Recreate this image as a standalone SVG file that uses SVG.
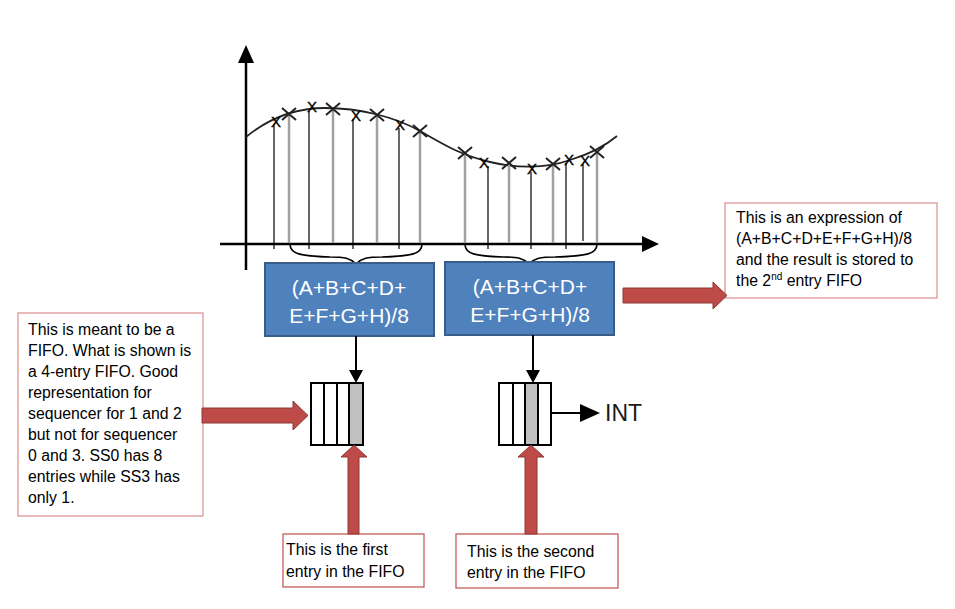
<svg xmlns="http://www.w3.org/2000/svg" width="955" height="609" viewBox="0 0 955 609">
<defs>
<style>
.txt{font-family:"Liberation Sans",Arial,sans-serif;font-size:15.8px;fill:#000}
.boxtxt{font-family:"Liberation Sans",Arial,sans-serif;font-size:21px;fill:#fff;text-anchor:middle}
.blk{stroke:#000;stroke-width:1.2;fill:none}
.gry{stroke:#A0A0A0;stroke-width:2.5;fill:none}
.xm{font-family:"Liberation Sans",Arial,sans-serif;font-size:15px;fill:#000;text-anchor:middle;stroke:#000;stroke-width:0.4}
.cr{stroke:#222;stroke-width:2;fill:none}
.calc{fill:#4F81BD;stroke:#385D8A;stroke-width:2}
.note{fill:#fff;stroke:#DC8E8E;stroke-width:1.2}
.note2{fill:#fff;stroke:#C0504D;stroke-width:1.2}
.red{fill:#BE4B48;stroke:#8C3836;stroke-width:1}
.fifo{fill:#fff;stroke:#000;stroke-width:2}
</style>
</defs>
<rect width="955" height="609" fill="#fff"/>

<g id="graph">
  <line x1="246" y1="270" x2="246" y2="62" stroke="#000" stroke-width="2.5"/>
  <polygon points="238,63 254,63 246,45" fill="#000"/>
  <line x1="220" y1="244" x2="643" y2="244" stroke="#000" stroke-width="2.5"/>
  <polygon points="642,236 642,252 659,244" fill="#000"/>
  <path d="M246,137 C268,119 295,108 325,108 C360,108 395,117 420,131 C445,145 460,155 490,162 C515,168 545,169 570,160 C590,154 605,146 617,136" stroke="#222" stroke-width="1.8" fill="none"/>
  <line class="blk" x1="274" y1="124" x2="274" y2="249"/>
  <line class="blk" x1="309" y1="111" x2="309" y2="249"/>
  <line class="blk" x1="353" y1="119" x2="353" y2="249"/>
  <line class="blk" x1="399" y1="128" x2="399" y2="249"/>
  <line class="blk" x1="488" y1="166" x2="488" y2="249"/>
  <line class="blk" x1="531" y1="172" x2="531" y2="249"/>
  <line class="blk" x1="566" y1="163" x2="566" y2="249"/>
  <line class="blk" x1="583" y1="164" x2="583" y2="241"/>
  <line class="gry" x1="289" y1="114" x2="289" y2="243"/>
  <line class="gry" x1="333" y1="109" x2="333" y2="243"/>
  <line class="gry" x1="377" y1="115" x2="377" y2="243"/>
  <line class="gry" x1="420" y1="131" x2="420" y2="243"/>
  <line class="gry" x1="465" y1="153" x2="465" y2="243"/>
  <line class="gry" x1="509" y1="163" x2="509" y2="243"/>
  <line class="gry" x1="553" y1="164" x2="553" y2="243"/>
  <line class="gry" x1="597" y1="152" x2="597" y2="243"/>
  <text class="xm" x="276" y="127">X</text>
  <text class="xm" x="312" y="112">X</text>
  <text class="xm" x="356" y="121">X</text>
  <text class="xm" x="400" y="130">X</text>
  <text class="xm" x="484" y="168">X</text>
  <text class="xm" x="532" y="174">X</text>
  <text class="xm" x="569" y="165">X</text>
  <text class="xm" x="585" y="166">X</text>
  <path class="cr" d="M282,108 l14,12 M282,120 l14,-12"/>
  <path class="cr" d="M326,103 l14,12 M326,115 l14,-12"/>
  <path class="cr" d="M370,109 l14,12 M370,121 l14,-12"/>
  <path class="cr" d="M413,125 l14,12 M413,137 l14,-12"/>
  <path class="cr" d="M458,147 l14,12 M458,159 l14,-12"/>
  <path class="cr" d="M502,157 l14,12 M502,169 l14,-12"/>
  <path class="cr" d="M546,158 l14,12 M546,170 l14,-12"/>
  <path class="cr" d="M590,146 l14,12 M590,158 l14,-12"/>
  <path d="M290,244 C290,254 300,256 330,257 C345,257 350,258 356,264 C362,258 367,257 382,257 C412,256 422,254 422,244" stroke="#000" stroke-width="1.6" fill="none"/>
  <path d="M465,244 C465,254 475,256 503,257 C518,257 523,258 529,264 C535,258 540,257 555,257 C587,256 597,254 597,244" stroke="#000" stroke-width="1.6" fill="none"/>
</g>

<g id="calc1">
  <rect class="calc" x="265" y="263" width="169" height="73"/>
  <text class="boxtxt" x="349" y="295">(A+B+C+D+</text>
  <text class="boxtxt" x="349" y="323">E+F+G+H)/8</text>
</g>
<g id="calc2">
  <rect class="calc" x="445" y="262" width="169" height="73"/>
  <text class="boxtxt" x="530" y="294">(A+B+C+D+</text>
  <text class="boxtxt" x="530" y="322">E+F+G+H)/8</text>
</g>

<g id="fifo1">
  <rect class="fifo" x="311" y="383" width="52" height="62"/>
  <rect x="349" y="384" width="13" height="60" fill="#C0C0C0"/>
  <line x1="324" y1="383" x2="324" y2="445" stroke="#000" stroke-width="2"/>
  <line x1="337" y1="383" x2="337" y2="445" stroke="#000" stroke-width="2"/>
  <line x1="349" y1="383" x2="349" y2="445" stroke="#000" stroke-width="2"/>
  <rect x="311" y="383" width="52" height="62" fill="none" stroke="#000" stroke-width="2"/>
</g>
<g id="fifo2">
  <rect class="fifo" x="499" y="383" width="52" height="62"/>
  <rect x="525" y="384" width="13" height="60" fill="#C0C0C0"/>
  <line x1="513" y1="383" x2="513" y2="445" stroke="#000" stroke-width="2"/>
  <line x1="525" y1="383" x2="525" y2="445" stroke="#000" stroke-width="2"/>
  <line x1="538" y1="383" x2="538" y2="445" stroke="#000" stroke-width="2"/>
  <rect x="499" y="383" width="52" height="62" fill="none" stroke="#000" stroke-width="2"/>
</g>
<g id="int">
  <text x="605" y="421" style="font-family:'Liberation Sans',Arial,sans-serif;font-size:23px;fill:#1a1a1a">INT</text>
</g>

<g id="note-left">
  <rect class="note" x="18" y="313" width="185" height="203"/>
  <text class="txt" x="28" y="335">This is meant to be a</text>
  <text class="txt" x="28" y="356">FIFO. What is shown is</text>
  <text class="txt" x="28" y="377">a 4-entry FIFO. Good</text>
  <text class="txt" x="28" y="398">representation for</text>
  <text class="txt" x="28" y="419">sequencer for 1 and 2</text>
  <text class="txt" x="28" y="440">but not for sequencer</text>
  <text class="txt" x="28" y="461">0 and 3. SS0 has 8</text>
  <text class="txt" x="28" y="482">entries while SS3 has</text>
  <text class="txt" x="28" y="503">only 1.</text>
</g>
<g id="note-right">
  <rect class="note" x="725" y="203" width="212" height="95"/>
  <text class="txt" x="736" y="223">This is an expression of</text>
  <text class="txt" x="736" y="244">(A+B+C+D+E+F+G+H)/8</text>
  <text class="txt" x="736" y="265">and the result is stored to</text>
  <text class="txt" x="736" y="286">the 2<tspan font-size="10" dy="-6">nd</tspan><tspan dy="6"> entry FIFO</tspan></text>
</g>
<g id="note-first">
  <rect class="note2" x="283" y="534" width="141" height="53"/>
  <text class="txt" x="286" y="555">This is the first</text>
  <text class="txt" x="286" y="577">entry in the FIFO</text>
</g>
<g id="note-second">
  <rect class="note2" x="456" y="534" width="162" height="54"/>
  <text class="txt" x="467" y="557">This is the second</text>
  <text class="txt" x="467" y="578">entry in the FIFO</text>
</g>

<g id="connectors">
  <line x1="356" y1="336" x2="356" y2="371" stroke="#000" stroke-width="2"/>
  <polygon points="349,370 363,370 356,383" fill="#000"/>
  <line x1="533" y1="335" x2="533" y2="371" stroke="#000" stroke-width="2"/>
  <polygon points="526,370 540,370 533,383" fill="#000"/>
  <line x1="551" y1="413" x2="582" y2="413" stroke="#000" stroke-width="2"/>
  <polygon points="580,404 580,422 600,413" fill="#000"/>
  <polygon class="red" points="202,408 293,408 293,401 308,415.5 293,430 293,423 202,423"/>
  <polygon class="red" points="623,288 713,288 713,282 727,295.5 713,309 713,303 623,303"/>
  <polygon class="red" points="348,534 348,457 341,457 354,445 367,457 359,457 359,534"/>
  <polygon class="red" points="525,534 525,457 518,457 531,445 544,457 537,457 537,534"/>
</g>
</svg>
